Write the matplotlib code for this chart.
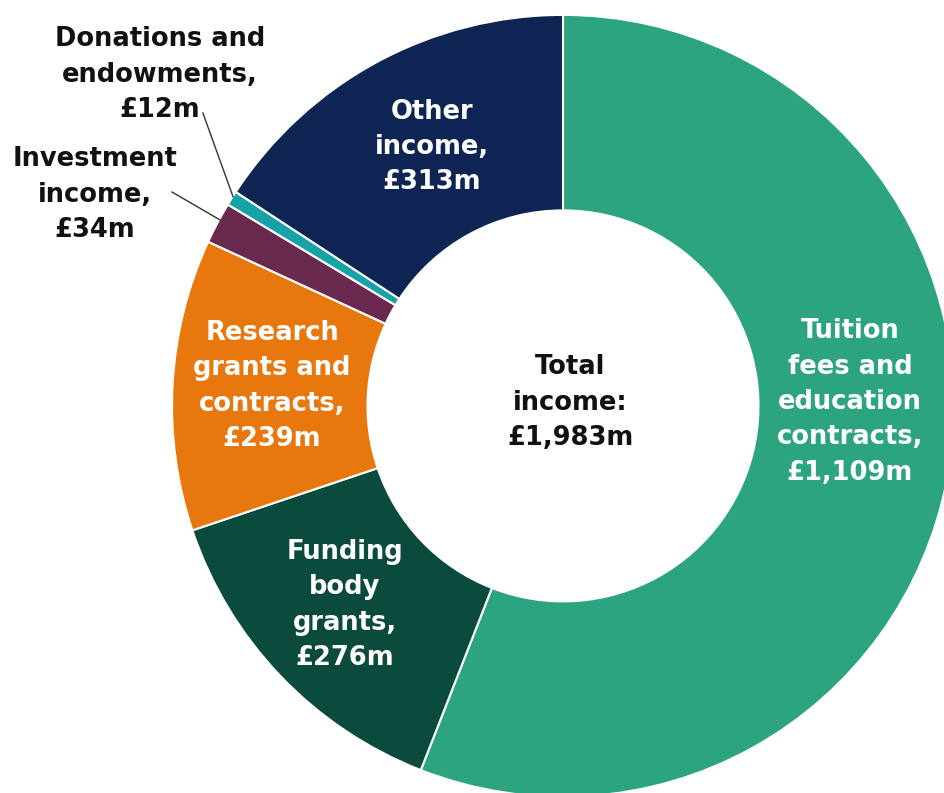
import matplotlib
matplotlib.use("Agg")
import matplotlib.pyplot as plt

# Income sources (£m), clockwise from 12 o'clock
categories = [
    "Tuition fees and education contracts",
    "Funding body grants",
    "Research grants and contracts",
    "Investment income",
    "Donations and endowments",
    "Other income",
]
values = [1109, 276, 239, 34, 12, 313]
colors = ["#2ba47f", "#0b4b3d", "#e8780e", "#6a2a4f", "#17a2a7", "#0e2553"]

labels = [
    "Tuition\nfees and\neducation\ncontracts,\n£1,109m",
    "Funding\nbody\ngrants,\n£276m",
    "Research\ngrants and\ncontracts,\n£239m",
    "Investment\nincome,\n£34m",
    "Donations and\nendowments,\n£12m",
    "Other\nincome,\n£313m",
]
total = sum(values)

fig = plt.figure(figsize=(9.45, 7.93), dpi=100)
ax = fig.add_axes([0, 0, 1, 1])

wedges, _ = ax.pie(
    values, colors=colors, startangle=90, counterclock=False,
    radius=1.0, wedgeprops=dict(width=0.5, edgecolor="white", linewidth=1.5),
)
ax.set_xlim(-1.440, 0.977)
ax.set_ylim(-0.990, 1.038)
ax.set_aspect("equal")
ax.axis("off")

font = dict(family="DejaVu Sans", fontweight="bold", fontsize=18.5,
            ha="center", va="center", linespacing=1.47)

# Labels inside the ring
inside = {
    0: (0.734, 0.010),
    1: (-0.558, -0.509),
    2: (-0.744, 0.051),
    5: (-0.335, 0.662),
}
for i, (x, y) in inside.items():
    ax.text(x, y, labels[i], color="white", **font)

# Labels outside the ring with leader lines
outside = {
    4: ((-1.031, 0.847), (-0.921, 0.749), (-0.844, 0.535)),
    3: ((-1.197, 0.540), (-1.000, 0.547), (-0.878, 0.476)),
}
for i, ((tx, ty), p0, p1) in outside.items():
    ax.text(tx, ty, labels[i], color="#111111", **font)
    ax.plot([p0[0], p1[0]], [p0[1], p1[1]], color="#333333", lw=1.0)

ax.text(0.018, 0.008, f"Total\nincome:\n£{total:,}m", color="#111111", **font)

fig.savefig("out.png", dpi=100, facecolor="white")
